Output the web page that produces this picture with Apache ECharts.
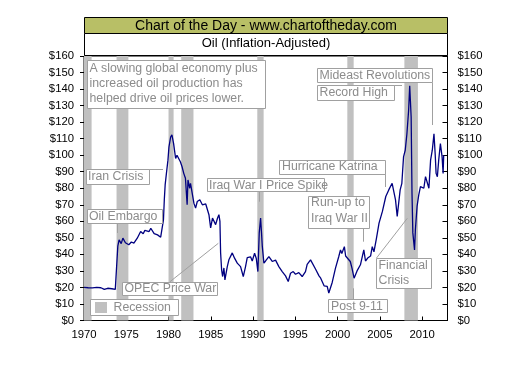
<!DOCTYPE html>
<html><head><meta charset="utf-8">
<script src="https://cdn.jsdelivr.net/npm/echarts@6/dist/echarts.min.js"></script>
<style>html,body{margin:0;padding:0;background:#fff}#c{width:532px;height:365px}</style>
</head><body><div id="c"></div>
<script>
// Oil price (inflation-adjusted)
const years = [1970.0,1970.5,1971.0,1971.5,1972.0,1972.4,1972.8,1973.3,1973.7,1973.85,1974.0,1974.15,1974.4,1974.6,1974.9,1975.3,1975.6,1975.9,1976.3,1976.7,1977.0,1977.2,1977.7,1977.9,1978.3,1978.7,1979.07,1979.4,1979.5,1979.6,1979.75,1979.93,1980.05,1980.25,1980.4,1980.6,1980.84,1981.0,1981.2,1981.4,1981.6,1981.8,1982.0,1982.2,1982.3,1982.5,1982.6,1982.8,1983.0,1983.2,1983.4,1983.7,1984.0,1984.4,1984.78,1984.98,1985.2,1985.37,1985.57,1985.8,1985.96,1986.08,1986.16,1986.28,1986.4,1986.55,1986.67,1986.95,1987.14,1987.54,1987.81,1988.13,1988.52,1988.84,1989.11,1989.31,1989.7,1989.9,1990.18,1990.38,1990.57,1990.73,1990.89,1991.0,1991.09,1991.28,1991.48,1991.87,1992.27,1992.66,1993.05,1993.45,1993.84,1994.16,1994.43,1994.75,1995.02,1995.41,1995.81,1996.2,1996.4,1996.8,1997.0,1997.4,1997.8,1998.0,1998.4,1998.77,1998.96,1999.36,1999.75,2000.14,2000.34,2000.5,2000.8,2000.95,2001.13,2001.5,2001.7,2001.95,2002.3,2002.7,2003.1,2003.3,2003.6,2003.9,2004.1,2004.3,2004.6,2004.9,2005.3,2005.7,2006.05,2006.45,2006.6,2006.85,2007.05,2007.4,2007.6,2007.8,2008.0,2008.2,2008.4,2008.53,2008.7,2008.8,2008.9,2009.1,2009.2,2009.4,2009.6,2009.8,2010.0,2010.2,2010.4,2010.6,2010.8,2011.0,2011.2,2011.4,2011.55,2011.65,2011.8,2011.96,2012.16,2012.36,2012.48,2012.55];
const prices = [20,19.8,19.7,20,19.8,18.8,19.5,19.2,18.8,19,45,48.8,46.5,49.8,47,45.8,47.5,46.8,49.8,53.8,52.5,54.5,53.8,55.8,52.5,51.8,50.4,60.9,73,82,89,97,105,111,112.3,107,98,100,99,96,93,89,86,70,85,80,83,84,71,68,72,73,70,70.5,64,56,62,61,58,62,64,60,41,30.6,26.6,31.8,24.6,32.6,36.7,40.9,37.7,34.7,32.6,26.6,32.6,38,38.5,36,40.7,37.5,29.6,53,62,53,45,34.7,36,38.7,35.7,36.5,32.6,29.6,27,23.6,28.6,29.6,28,29,26.6,29.6,34,36.7,37,31,27,25.6,21,20.6,16.6,23,31.7,38.7,42.7,40.5,44.7,39,38.7,35.7,31.7,25.6,30,33.7,42.7,36,38,39,44.7,41.5,49.8,58.9,66,75,79,83,84,73,63,79,83,99,103,113,127,142,123,77,53,42.7,54.8,69,76,81,82,80,87,86,80,97,103,113,100,89,87,97,107,99,89,100];
const recessionStarts = [1970.0,1973.85,1980.0,1981.5,1990.5,2001.15,2007.9];
const recessionEnds   = [1970.9,1975.25,1980.6,1982.95,1991.25,2001.9,2009.5];
const xTickLabels = [1970,1975,1980,1985,1990,1995,2000,2005,2010];
const yTickValues = [0,10,20,30,40,50,60,70,80,90,100,110,120,130,140,150,160];

const chart = echarts.init(document.getElementById('c'), null, {renderer:'canvas'});
const FONT = '"Liberation Sans", Arial, sans-serif';
const annFont = '12.3px ' + FONT;
const annColor = '#8c8c8c';
const boxStroke = '#a0a0a0';

function box(x0,y0,x1,y1){
  return {type:'rect', z:100, shape:{x:Math.round(x0)+0.5,y:Math.round(y0)+0.5,width:Math.round(x1-x0),height:Math.round(y1-y0)},
    style:{fill:'#fff', stroke:boxStroke, lineWidth:1}};
}
function txt(s,x,y,extra){
  return Object.assign({type:'text', z:101, style:{text:s, x:x, y:y, fill:annColor, font:annFont, verticalAlign:'middle', align:'left'}}, extra||{});
}
function ln(x1,y1,x2,y2){
  return {type:'line', z:99, shape:{x1:x1,y1:y1,x2:x2,y2:y2}, style:{stroke:boxStroke, lineWidth:1}};
}

const graphics = [
  // title bands
  {type:'rect', z:100, shape:{x:84.5,y:17.5,width:363,height:16}, style:{fill:'#b8bf66', stroke:'#000', lineWidth:1}},
  {type:'rect', z:100, shape:{x:84.5,y:33.5,width:363,height:22}, style:{fill:'#fff', stroke:'#000', lineWidth:1}},
  {type:'text', z:101, style:{text:'Chart of the Day - www.chartoftheday.com', x:266, y:26, fill:'#000', font:'14px '+FONT, align:'center', verticalAlign:'middle'}},
  {type:'text', z:101, style:{text:'Oil (Inflation-Adjusted)', x:266, y:43.5, fill:'#000', font:'13px '+FONT, align:'center', verticalAlign:'middle'}},
  // big note
  box(86.7,60,264.3,108.3),
  txt('A slowing global economy plus',89.5,68.5),
  txt('increased oil production has',89.5,83.5),
  txt('helped drive oil prices lower.',89.5,98.5),
  // Iran Crisis
  ln(148,169.5,163,169.5),
  box(85.7,169.3,148.3,184), txt('Iran Crisis',88,177),
  // Oil Embargo
  ln(117.5,223,117.5,233),
  box(86.7,209.3,161.7,223.3), txt('Oil Embargo',89,216.5),
  // Iraq War I
  ln(259.5,191,259.5,201.7),
  box(206.7,178.3,324,191.7), txt('Iraq War I Price Spike',209,185.3),
  // Hurricane Katrina
  ln(385.5,173,385.5,187),
  box(279.3,159.5,385,173), txt('Hurricane Katrina',282,166.5),
  // Run-up to Iraq War II
  ln(363.5,227,363.5,241.7),
  box(308.3,195.5,369,227), txt('Run-up to',311,203), txt('Iraq War II',311,218.5),
  // Post 9-11
  ln(353.5,288.3,353.5,299.5),
  box(328.3,299.3,387.3,312.7), txt('Post 9-11',331,306.3),
  // Financial Crisis
  ln(376.5,258,407.3,218.3),
  box(376,258.3,431,288.3), txt('Financial',378.5,266), txt('Crisis',378.5,281),
  // Mideast Revolutions
  ln(432.5,82.5,432.5,125),
  box(316.7,68.3,431.7,82.3), txt('Mideast Revolutions',319.5,75.5),
  // Record High
  ln(393,85.5,402,85.5),
  box(316.7,85,393.3,100), txt('Record High',319.5,92.5),
  // OPEC Price War
  ln(170,281.7,218.3,243.3),
  box(121.7,281.7,216.7,295), txt('OPEC Price War',124.5,288.5),
  // legend
  box(90,299.3,178.3,315.7),
  {type:'rect', z:101, shape:{x:95,y:302,width:12,height:11}, style:{fill:'#c0c0c0'}},
  txt('Recession',113.5,307.8)
];

const option = {
  animation:false,
  backgroundColor:'#fff',
  grid:{left:84, right:84.5, top:56, bottom:44.5, show:true, borderColor:'#000', borderWidth:1, backgroundColor:'transparent'},
  xAxis:{type:'value', min:1970, max:2013, interval:5,
    axisLine:{show:true, lineStyle:{color:'#000', width:1}},
    axisTick:{show:true, inside:true, length:4, lineStyle:{color:'#000'}},
    splitLine:{show:false},
    axisLabel:{color:'#000', fontFamily:FONT, fontSize:11.3, margin:9,
      formatter:function(v){return xTickLabels.indexOf(Math.round(v))>=0 && Math.abs(v-Math.round(v))<1e-6 ? String(Math.round(v)) : '';}}},
  yAxis:[
    {type:'value', min:yTickValues[0], max:yTickValues[yTickValues.length-1], interval:10, position:'left',
      axisLine:{show:true, lineStyle:{color:'#000'}},
      axisTick:{show:true, inside:false, length:4, lineStyle:{color:'#000'}},
      splitLine:{show:false},
      axisLabel:{color:'#000', fontFamily:FONT, fontSize:11.3, margin:10, formatter:function(v){return '$'+v;}}},
    {type:'value', min:yTickValues[0], max:yTickValues[yTickValues.length-1], interval:10, position:'right',
      axisLine:{show:true, lineStyle:{color:'#000'}},
      axisTick:{show:true, inside:true, length:5, lineStyle:{color:'#000'}},
      splitLine:{show:false},
      axisLabel:{color:'#000', fontFamily:FONT, fontSize:11.3, margin:10, formatter:function(v){return '$'+v;}}}
  ],
  series:[
    {type:'line', z:1, data:[], silent:true,
      markArea:{silent:true, itemStyle:{color:'#c0c0c0'},
        data: recessionStarts.map(function(s,i){return [{xAxis:s},{xAxis:recessionEnds[i]}];})}},
    {type:'line', z:5, yAxisIndex:0, showSymbol:false, symbol:'none',
      lineStyle:{color:'#000080', width:1.3},
      data: years.map(function(y,i){return [y, prices[i]];})}
  ],
  graphic: graphics
};
chart.setOption(option);
</script>
</body></html>
